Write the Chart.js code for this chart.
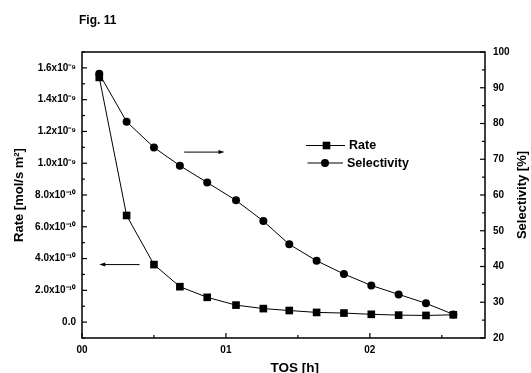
<!DOCTYPE html>
<html>
<head>
<meta charset="utf-8">
<script src="https://cdn.jsdelivr.net/npm/chart.js@4/dist/chart.umd.min.js"></script>
<style>
  html, body { margin: 0; padding: 0; background: #fff; }
  #wrap { width: 531px; height: 373px; position: relative; }
</style>
</head>
<body>
<div id="wrap"><canvas id="c" width="531" height="373"></canvas></div>
<script>
// ---- data ----
const tos = [0.12, 0.31, 0.50, 0.68, 0.87, 1.07, 1.26, 1.44, 1.63, 1.82, 2.01, 2.20, 2.39, 2.58];
const rate = [1.54e-9, 6.71e-10, 3.62e-10, 2.23e-10, 1.56e-10, 1.07e-10, 8.5e-11, 7.3e-11, 6.1e-11, 5.7e-11, 4.9e-11, 4.4e-11, 4.2e-11, 4.6e-11];
const selectivity = [93.9, 80.5, 73.3, 68.2, 63.5, 58.5, 52.7, 46.2, 41.6, 37.9, 34.7, 32.2, 29.7, 26.6];
const xTickLabels = ['00', '01', '02'];
const rateTickLabels = ['0.0', '2.0x10\u207B\u00B9\u2070', '4.0x10\u207B\u00B9\u2070', '6.0x10\u207B\u00B9\u2070', '8.0x10\u207B\u00B9\u2070',
  '1.0x10\u207B\u2079', '1.2x10\u207B\u2079', '1.4x10\u207B\u2079', '1.6x10\u207B\u2079'];
const seriesNames = ['Rate', 'Selectivity'];
const titleText = 'Fig. 11';
const rightAxisTitle = 'Selectivity [%]';
// arrows: [xFrom, xTo, value, axis]
const arrows = [
  { from: 0.71, to: 0.99, value: 72.0, axis: 'y1' },
  { from: 0.40, to: 0.12, value: 3.62e-10, axis: 'y' }
];

const FONT = '"Liberation Sans", Arial, sans-serif';

const framePlugin = {
  id: 'frame',
  afterDraw(chart) {
    const ctx = chart.ctx, a = chart.chartArea;
    ctx.save();
    ctx.strokeStyle = '#000';
    ctx.lineWidth = 1.5;
    ctx.strokeRect(a.left, a.top, a.right - a.left, a.bottom - a.top);
    // inward ticks
    const drawTicks = (scale, dir) => {
      scale.ticks.forEach(t => {
        const major = t.label !== '' && t.label !== undefined;
        const len = major ? 5 : 3;
        const p = scale.getPixelForValue(t.value);
        ctx.beginPath();
        ctx.lineWidth = 1.2;
        if (dir === 'left') { ctx.moveTo(a.left, p); ctx.lineTo(a.left + len, p); }
        if (dir === 'right') { ctx.moveTo(a.right, p); ctx.lineTo(a.right - len, p); }
        if (dir === 'bottom') { ctx.moveTo(p, a.bottom); ctx.lineTo(p, a.bottom - len); }
        ctx.stroke();
      });
    };
    drawTicks(chart.scales.y, 'left');
    drawTicks(chart.scales.y1, 'right');
    drawTicks(chart.scales.x, 'bottom');

    // arrows
    arrows.forEach(ar => {
      const xs = chart.scales.x, ys = chart.scales[ar.axis];
      const x0 = xs.getPixelForValue(ar.from), x1 = xs.getPixelForValue(ar.to);
      const y = ys.getPixelForValue(ar.value);
      const d = Math.sign(x1 - x0);
      ctx.lineWidth = 1;
      ctx.beginPath(); ctx.moveTo(x0, y); ctx.lineTo(x1 - d * 4, y); ctx.stroke();
      ctx.beginPath(); ctx.moveTo(x1, y); ctx.lineTo(x1 - d * 6, y - 2); ctx.lineTo(x1 - d * 6, y + 2); ctx.closePath();
      ctx.fillStyle = '#000'; ctx.fill();
    });

    ctx.fillStyle = '#000';
    // right axis title, reading bottom-to-top
    ctx.save();
    ctx.font = 'bold 13px ' + FONT;
    ctx.textAlign = 'center';
    ctx.textBaseline = 'middle';
    ctx.translate(522, (a.top + a.bottom) / 2);
    ctx.rotate(-Math.PI / 2);
    ctx.fillText(rightAxisTitle, 0, 0);
    ctx.restore();

    // title
    ctx.font = 'bold 12px ' + FONT;
    ctx.textBaseline = 'middle';
    ctx.textAlign = 'left';
    ctx.fillText(titleText, 79, 21);

    // legend
    const items = [
      { y: 145.5, style: 'rect', label: seriesNames[0], x0: 306, x1: 345, mx: 326.5 },
      { y: 163, style: 'circle', label: seriesNames[1], x0: 307.5, x1: 343, mx: 325 }
    ];
    items.forEach(it => {
      ctx.lineWidth = 1;
      ctx.beginPath(); ctx.moveTo(it.x0, it.y); ctx.lineTo(it.x1, it.y); ctx.stroke();
      ctx.beginPath();
      if (it.style === 'rect') ctx.rect(it.mx - 3.8, it.y - 3.8, 7.6, 7.6);
      else ctx.arc(it.mx, it.y, 4, 0, Math.PI * 2);
      ctx.fill();
      ctx.font = 'bold 12.5px ' + FONT;
      ctx.fillText(it.label, it.x1 + 4, it.y + 0.5);
    });
    ctx.restore();
  }
};

new Chart(document.getElementById('c'), {
  type: 'line',
  data: {
    datasets: [
      {
        label: seriesNames[0],
        data: tos.map((x, i) => ({ x, y: rate[i] })),
        yAxisID: 'y',
        borderColor: '#000', backgroundColor: '#000', borderWidth: 1,
        pointStyle: 'rect', pointRadius: 5.4, pointHoverRadius: 5.4,
        pointBackgroundColor: '#000', pointBorderWidth: 0, tension: 0
      },
      {
        label: seriesNames[1],
        data: tos.map((x, i) => ({ x, y: selectivity[i] })),
        yAxisID: 'y1',
        borderColor: '#000', backgroundColor: '#000', borderWidth: 1,
        pointStyle: 'circle', pointRadius: 4, pointHoverRadius: 4,
        pointBackgroundColor: '#000', pointBorderWidth: 0, tension: 0
      }
    ]
  },
  options: {
    responsive: false,
    animation: false,
    events: [],
    layout: { padding: { top: 52, left: 0, right: 0, bottom: 0 } },
    plugins: { legend: { display: false }, tooltip: { enabled: false }, title: { display: false } },
    scales: {
      x: {
        type: 'linear', position: 'bottom', min: 0, max: 2.8,
        afterFit(s) { s.height = 35; },
        grid: { display: false, drawTicks: false },
        border: { display: false },
        ticks: {
          stepSize: 0.5, includeBounds: false, autoSkip: false, maxRotation: 0, padding: 6,
          color: '#000', font: { family: FONT, size: 10, weight: 'bold' },
          callback(v) {
            const r = Math.round(v * 2);
            return (r % 2 === 0 && xTickLabels[r / 2] !== undefined) ? xTickLabels[r / 2] : '';
          }
        },
        title: { display: true, text: '      TOS [h]', color: '#000', padding: -3,
                 font: { family: FONT, size: 13.5, weight: 'bold' } }
      },
      y: {
        type: 'linear', position: 'left', min: -1e-10, max: 1.7e-9,
        afterFit(s) { s.width = 82; },
        grid: { display: false, drawTicks: false },
        border: { display: false },
        ticks: {
          stepSize: 1e-10, includeBounds: false, autoSkip: false, padding: 6,
          color: '#000', font: { family: FONT, size: 10, weight: 'bold' },
          callback(v) {
            const r = Math.round(v / 1e-10);
            return (r >= 0 && r % 2 === 0 && rateTickLabels[r / 2] !== undefined) ? rateTickLabels[r / 2] : '';
          }
        },
        title: { display: true, text: 'Rate [mol/s m\u00B2]', color: '#000', padding: { top: 12, bottom: 0 },
                 font: { family: FONT, size: 13, weight: 'bold' } }
      },
      y1: {
        type: 'linear', position: 'right', min: 20, max: 100,
        afterFit(s) { s.width = 46; },
        grid: { display: false, drawTicks: false },
        border: { display: false },
        ticks: {
          stepSize: 5, autoSkip: false, padding: 8,
          color: '#000', font: { family: FONT, size: 10, weight: 'bold' },
          callback(v) { return (Math.round(v) % 10 === 0) ? String(Math.round(v)) : ''; }
        },
        title: { display: false }
      }
    }
  },
  plugins: [framePlugin]
});
</script>
</body>
</html>
